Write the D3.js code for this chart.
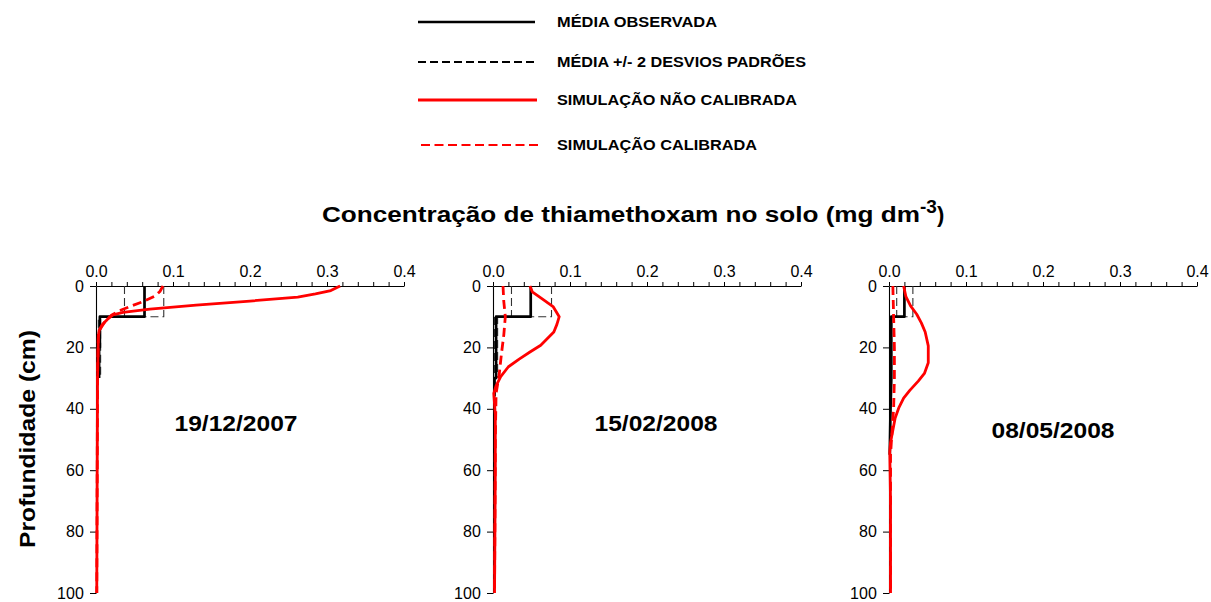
<!DOCTYPE html>
<html>
<head>
<meta charset="utf-8">
<script src="https://cdnjs.cloudflare.com/ajax/libs/d3/7.8.5/d3.min.js"></script>
<style>
  body { margin: 0; background: #fff; }
  svg { font-family: Arial, "Liberation Sans", sans-serif; }
</style>
</head>
<body>
<script>
// values: each point is [concentration (mg dm-3), depth (cm)]
var dates = ['19/12/2007', '15/02/2008', '08/05/2008'];
var xTicks = [0, 0.1, 0.2, 0.3, 0.4];
var yTicks = [0, 20, 40, 60, 80, 100];

var observed1 = [[0.063, 0], [0.063, 10], [0.005, 10], [0.005, 20], [0.004, 20], [0.004, 30]];
var sdLow1 = [[0.037, 0], [0.037, 10], [0.003, 10], [0.003, 30]];
var sdHigh1 = [[0.088, 0], [0.088, 10], [0.006, 10], [0.006, 30]];
var uncal1 = [[0.317, 0], [0.305, 1.5], [0.285, 2.6], [0.262, 3.6], [0.2, 4.9], [0.13, 6.2],
  [0.07, 7.5], [0.035, 8.6], [0.022, 9.4], [0.015, 10.8], [0.008, 12.6], [0.004, 14.5],
  [0.003, 17], [0.002, 30], [0.001, 100]];
var cal1 = [[0.087, 0], [0.083, 1.8], [0.077, 3.2], [0.062, 5], [0.045, 6.6], [0.03, 8.1],
  [0.02, 9.5], [0.012, 11.5], [0.006, 13.8], [0.003, 16], [0.002, 30], [0.001, 100]];

var observed2 = [[0.049, 0], [0.049, 10], [0.004, 10], [0.004, 30], [0.002, 30], [0.002, 36]];
var sdLow2 = [[0.024, 0], [0.024, 10], [0.002, 10], [0.002, 30]];
var sdHigh2 = [[0.076, 0], [0.076, 10], [0.006, 10], [0.006, 30]];
var uncal2 = [[0.048, 0], [0.051, 1.9], [0.063, 4], [0.078, 6.7], [0.086, 10], [0.083, 12.5],
  [0.079, 15], [0.062, 19.3], [0.048, 21.5], [0.034, 23.8], [0.02, 26.3], [0.01, 29.5],
  [0.004, 32.5], [0.001, 35], [0.003, 42], [0.003, 60], [0.002, 100]];
var cal2 = [[0.013, 0], [0.014, 5], [0.016, 10], [0.014, 16], [0.011, 22], [0.008, 29],
  [0.004, 35], [0.003, 50], [0.002, 100]];

var observed3 = [[0.02, 0], [0.02, 10], [0.003, 10], [0.003, 30], [0.002, 40], [0.001, 55]];
var sdLow3 = [[0.01, 0], [0.01, 10], [0.002, 10]];
var sdHigh3 = [[0.031, 0], [0.031, 10], [0.02, 10]];
var uncal3 = [[0.019, 0], [0.022, 3.5], [0.028, 6.5], [0.036, 9.2], [0.042, 12], [0.047, 15],
  [0.051, 19.5], [0.051, 25], [0.046, 28.5], [0.038, 31], [0.027, 34], [0.019, 36.5],
  [0.013, 39.5], [0.008, 43], [0.005, 47], [0.002, 51], [0.001, 54], [0.002, 70], [0.002, 100]];
var cal3 = [[0.005, 0], [0.006, 10], [0.007, 20], [0.007, 30], [0.006, 40], [0.004, 47],
  [0.002, 55], [0.002, 100]];

var panels = [
  {date: dates[0], obs: observed1, low: sdLow1, high: sdHigh1, uncal: uncal1, cal: cal1},
  {date: dates[1], obs: observed2, low: sdLow2, high: sdHigh2, uncal: uncal2, cal: cal2},
  {date: dates[2], obs: observed3, low: sdLow3, high: sdHigh3, uncal: uncal3, cal: cal3}
];

var legendLabels = ['MÉDIA OBSERVADA', 'MÉDIA +/- 2 DESVIOS PADRÕES',
  'SIMULAÇÃO NÃO CALIBRADA', 'SIMULAÇÃO CALIBRADA'];

(function () {
  "use strict";
  var svg = d3.select('body').append('svg').attr('width', 1211).attr('height', 602);

  var styles = {
    obs: {stroke: '#000', width: 2.7, dash: null},
    sd: {stroke: '#333', width: 1.1, dash: '8,4'},
    uncal: {stroke: '#ff0000', width: 2.8, dash: null},
    cal: {stroke: '#ff0000', width: 2.8, dash: '9,5'}
  };

  // legend at the top; the original labels are set wider than the font gives
  var legendRows = [
    {y: 22, x1: 418, x2: 535, w: 160, s: styles.obs},
    {y: 62, x1: 418, x2: 537, w: 249, s: {stroke: '#000', width: 2, dash: '8,4'}},
    {y: 100, x1: 418, x2: 537, w: 240, s: styles.uncal},
    {y: 145, x1: 421, x2: 540, w: 200, s: {stroke: '#ff0000', width: 2.2, dash: '9,4.5'}}
  ];
  var legend = svg.append('g').attr('class', 'legend');
  legendRows.forEach(function (r, i) {
    legend.append('line')
      .attr('x1', r.x1).attr('x2', r.x2).attr('y1', r.y).attr('y2', r.y)
      .attr('stroke', r.s.stroke).attr('stroke-width', r.s.width)
      .attr('stroke-dasharray', r.s.dash);
    legend.append('text')
      .attr('x', 557).attr('y', r.y + 5)
      .attr('font-size', 14).attr('font-weight', 'bold')
      .attr('textLength', r.w).attr('lengthAdjust', 'spacingAndGlyphs')
      .text(legendLabels[i]);
  });

  // main title with superscript
  var title = svg.append('text')
    .attr('x', 322).attr('y', 222)
    .attr('font-size', 22).attr('font-weight', 'bold');
  title.append('tspan')
    .attr('textLength', 598).attr('lengthAdjust', 'spacingAndGlyphs')
    .text('Concentração de thiamethoxam no solo (mg dm');
  title.append('tspan').attr('dy', -9).attr('font-size', 19).text('-3');
  title.append('tspan').attr('dy', 9).text(')');

  // y axis title
  svg.append('text')
    .attr('transform', 'translate(35,439) rotate(-90)')
    .attr('text-anchor', 'middle')
    .attr('font-size', 22).attr('font-weight', 'bold')
    .attr('textLength', 218).attr('lengthAdjust', 'spacingAndGlyphs')
    .text('Profundidade (cm)');

  var origins = [96, 493, 889];
  var top = 286, width = 308, height = 307;
  var x = d3.scaleLinear().domain([0, 0.4]).range([0, width]);
  var y = d3.scaleLinear().domain([0, 100]).range([0, height]);
  var line = d3.line()
    .x(function (d) { return x(d[0]); })
    .y(function (d) { return y(d[1]); });

  panels.forEach(function (p, i) {
    var g = svg.append('g').attr('transform', 'translate(' + origins[i] + ',' + top + ')');

    // minor ticks on the top axis
    g.append('g')
      .call(d3.axisTop(x).tickValues(d3.range(0, 0.401, 0.02)).tickSize(4).tickFormat(''))
      .call(function (a) { a.select('.domain').remove(); });
    var xa = g.append('g')
      .call(d3.axisTop(x).tickValues(xTicks).tickSize(4).tickSizeOuter(0)
        .tickFormat(d3.format('.1f')));
    xa.selectAll('text').attr('font-size', 16).attr('font-family', null).attr('dy', '-0.15em');

    var ya = g.append('g')
      .call(d3.axisLeft(y).tickValues(yTicks).tickSize(6).tickSizeOuter(0));
    ya.selectAll('text').attr('font-size', 16).attr('font-family', null).attr('dx', '-0.2em');
    g.selectAll('.domain').attr('stroke-width', 1.1);

    function draw(data, s) {
      g.append('path').datum(data)
        .attr('d', line)
        .attr('fill', 'none')
        .attr('stroke', s.stroke).attr('stroke-width', s.width)
        .attr('stroke-dasharray', s.dash)
        .attr('stroke-linejoin', 'round');
    }
    draw(p.low, styles.sd);
    draw(p.high, styles.sd);
    draw(p.obs, styles.obs);
    draw(p.cal, styles.cal);
    draw(p.uncal, styles.uncal);
  });

  // date labels inside each panel
  var datePos = [[236, 431], [656, 431], [1053, 438]];
  panels.forEach(function (p, i) {
    svg.append('text')
      .attr('x', datePos[i][0]).attr('y', datePos[i][1])
      .attr('text-anchor', 'middle')
      .attr('font-size', 22).attr('font-weight', 'bold')
      .attr('textLength', 123).attr('lengthAdjust', 'spacingAndGlyphs')
      .text(p.date);
  });
}());
</script>
</body>
</html>
